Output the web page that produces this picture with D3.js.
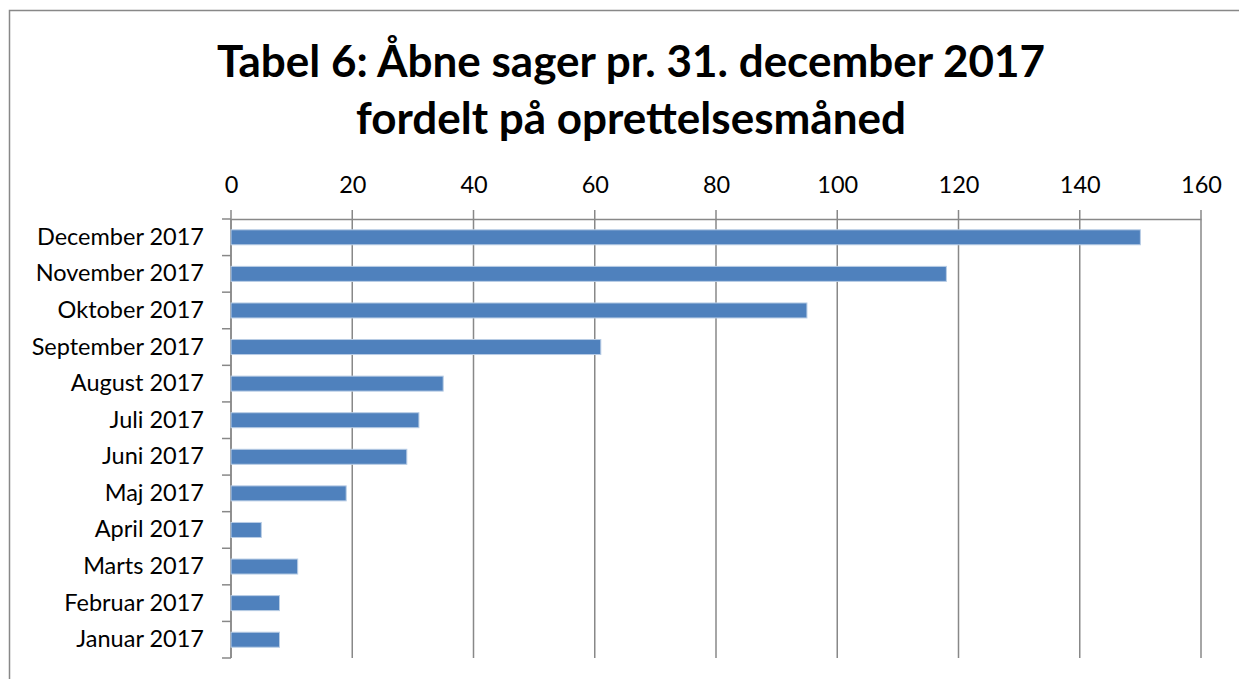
<!DOCTYPE html>
<html><head><meta charset="utf-8">
<script src="https://cdn.jsdelivr.net/npm/d3@7/dist/d3.min.js"></script>
<style>body{margin:0;background:#fff}svg{display:block}</style>
</head><body>
<script>
const categories = ["December 2017","November 2017","Oktober 2017","September 2017","August 2017","Juli 2017","Juni 2017","Maj 2017","April 2017","Marts 2017","Februar 2017","Januar 2017"];
const values = [150,118,95,61,35,31,29,19,5,11,8,8];
const xTicks = [0,20,40,60,80,100,120,140,160];
const titleLines = ["Tabel 6: Åbne sager pr. 31. december 2017","fordelt på oprettelsesmåned"];

const W = 1239, H = 679;
const svg = d3.select("body").append("svg").attr("width", W).attr("height", H);
svg.append("rect").attr("x",9.5).attr("y",10.5).attr("width",W+20).attr("height",H+20)
  .attr("fill","#fff").attr("stroke","#888").attr("stroke-width",1.5);

const font = "Lato, 'Open Sans', sans-serif";
const m = {left:231, right:1201, top:219, bottom:658};
const x = d3.scaleLinear().domain([0,160]).range([m.left, m.right]);
const y = d3.scaleBand().domain(categories).range([m.top, m.bottom]).paddingInner(0.59).paddingOuter(0.295);

// title
svg.append("g").selectAll("text").data(titleLines).join("text")
  .attr("x", 631).attr("y",(d,i)=>77+i*57).attr("text-anchor","middle")
  .attr("font-family",font).attr("font-weight","bold").attr("font-size",44).attr("fill","#000")
  .text(d=>d);

// gridlines
const g = svg.append("g");
g.selectAll("line.grid").data(xTicks).join("line")
  .attr("x1",d=>x(d)).attr("x2",d=>x(d)).attr("y1",m.top-9).attr("y2",m.bottom)
  .attr("stroke","#888").attr("stroke-width",1.5);

// top axis
const xAxis = d3.axisTop(x).tickValues(xTicks).tickSize(0).tickPadding(26);
const ax = svg.append("g").attr("transform",`translate(0,${m.top})`).call(xAxis);
ax.select(".domain").attr("stroke","#888").attr("stroke-width",1.5);
ax.selectAll("text").attr("font-family",font).attr("font-size",23.5).attr("fill","#000");

// left axis
const yAxis = d3.axisLeft(y).tickSize(0).tickPadding(27);
const ay = svg.append("g").attr("transform",`translate(${m.left},0)`).call(yAxis);
ay.select(".domain").remove();
ay.selectAll("text").attr("font-family",font).attr("font-size",23.5).attr("fill","#000");
// category boundary ticks
const bounds = categories.map(c=>y(c)-y.step()*y.paddingInner()/2).concat([m.bottom]);
svg.append("g").selectAll("line").data([m.top].concat(bounds.slice(1))).join("line")
  .attr("x1",m.left-9).attr("x2",m.left).attr("y1",d=>d).attr("y2",d=>d)
  .attr("stroke","#888").attr("stroke-width",1.5);
svg.append("line").attr("x1",m.left).attr("x2",m.left).attr("y1",m.top).attr("y2",m.bottom)
  .attr("stroke","#888").attr("stroke-width",1.5);

// bars
svg.append("g").selectAll("rect").data(values).join("rect")
  .attr("x",x(0)).attr("y",(d,i)=>y(categories[i]))
  .attr("width",d=>x(d)-x(0)).attr("height",y.bandwidth())
  .attr("fill","#4F81BD").attr("stroke","#B9CDE5").attr("stroke-width",1);
</script>
</body></html>
